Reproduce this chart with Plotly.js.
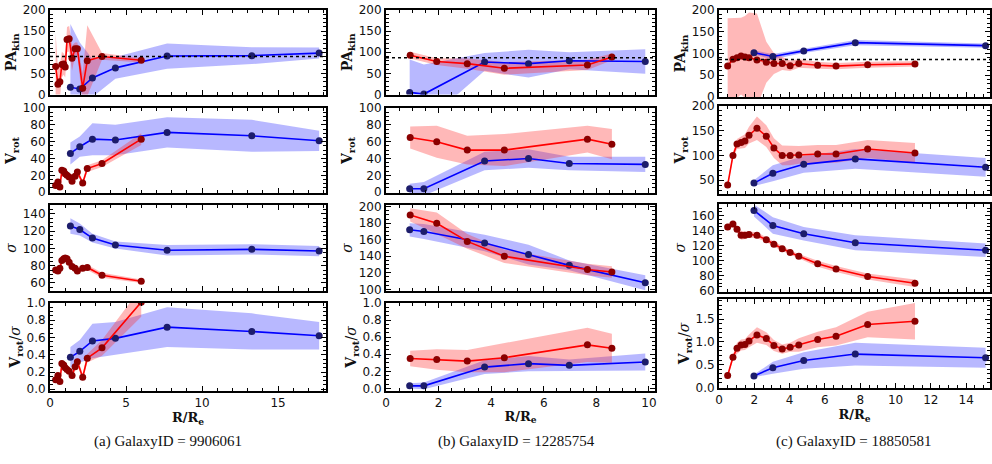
<!DOCTYPE html>
<html>
<head>
<meta charset="utf-8">
<script src="https://cdn.plot.ly/plotly-3.0.1.min.js"></script>
<style>html,body{margin:0;padding:0;background:#fff}#chart{width:992px;height:464px}</style>
</head>
<body>
<div id="chart"></div>
<script>
// ---------- Galaxy (a) 9906061 ----------
const aRedR      = [0.37, 0.52, 0.65, 0.78, 0.9, 1.0, 1.12, 1.26, 1.45, 1.65, 1.8, 2.15, 2.45, 3.42, 6.0];
const aRedPA     = [66, 24, 30, 71, 72, 65, 130, 132, 86, 108, 108, 15, 80, 90, 81];
const aRedPAerr  = [79, 40, 40, 30, 25, 25, 30, 30, 30, 15, 15, 35, 84, 8, 5];
const aRedV      = [8, 12, 6, 26, 25, 22, 20, 18, 13, 19, 24, 11, 28, 34, 63];
const aRedVerr   = [2, 2, 2, 3, 3, 3, 3, 3, 3, 3, 3, 3, 4, 4, 7];
const aRedSig    = [75, 74, 77, 86, 88, 89, 88, 84, 79, 77, 74, 77, 78, 69, 62];
const aRedSigErr = [3, 3, 3, 3, 3, 3, 3, 3, 3, 3, 3, 3, 3, 3, 2];
const aRedVS     = [0.11, 0.16, 0.09, 0.30, 0.28, 0.25, 0.23, 0.21, 0.16, 0.26, 0.32, 0.14, 0.36, 0.48, 1.01];
const aRedVSerr  = [0.03, 0.03, 0.03, 0.04, 0.04, 0.04, 0.04, 0.04, 0.04, 0.04, 0.04, 0.04, 0.05, 0.09, 0.17];
const aBlueR      = [1.34, 1.96, 2.79, 4.3, 7.7, 13.27, 17.7];
const aBluePA     = [17, 13, 39, 63, 91, 92, 98];
const aBluePAerr  = [150, 110, 45, 26, 30, 20, 13];
const aBlueV      = [46, 54, 63, 62, 71, 67, 61];
const aBlueVerr   = [13, 12, 19, 18, 18, 19, 12];
const aBlueSig    = [126, 122, 112, 104, 98, 99, 97];
const aBlueSigErr = [9, 7, 5, 4, 6, 6, 6];
const aBlueVS     = [0.37, 0.44, 0.56, 0.59, 0.72, 0.67, 0.62];
const aBlueVSerr  = [0.12, 0.13, 0.2, 0.19, 0.23, 0.21, 0.16];

// ---------- Galaxy (b) 12285754 ----------
const bRedR      = [0.92, 1.93, 3.09, 4.5, 7.66, 8.59];
const bRedPA     = [93, 78, 73, 62, 70, 89];
const bRedPAerr  = [8, 8, 12, 15, 12, 8];
const bRedV      = [65, 60, 50, 50, 63, 57];
const bRedVerr   = [13, 19, 17, 19, 16, 18];
const bRedSig    = [190, 180, 158, 140, 124, 121];
const bRedSigErr = [8, 13, 9, 8, 7, 7];
const bRedVS     = [0.35, 0.34, 0.32, 0.36, 0.51, 0.47];
const bRedVSerr  = [0.09, 0.12, 0.13, 0.17, 0.2, 0.17];
const bBlueR      = [0.9, 1.44, 3.75, 5.42, 6.97, 9.86];
const bBluePA     = [5, 1, 77, 73, 80, 78];
const bBluePAerr  = [78, 70, 21, 33, 20, 29];
const bBlueV      = [4, 4, 37, 40, 34, 33];
const bBlueVerr   = [6, 8, 11, 11, 8, 9];
const bBlueSig    = [172, 170, 156, 142, 129, 108];
const bBlueSigErr = [8, 9, 10, 12, 6, 9];
const bBlueVS     = [0.03, 0.03, 0.25, 0.29, 0.27, 0.31];
const bBlueVSerr  = [0.03, 0.04, 0.08, 0.09, 0.07, 0.1];

// ---------- Galaxy (c) 18850581 ----------
const cRedR      = [0.49, 0.79, 1.02, 1.25, 1.47, 1.7, 2.15, 2.68, 3.11, 3.58, 4.03, 4.52, 5.59, 6.63, 8.42, 11.1];
const cRedPA     = [71, 87, 90, 94, 92, 90, 85, 80, 77, 77, 72, 77, 73, 71, 74, 76];
const cRedPAerr  = [110, 95, 92, 88, 94, 104, 107, 47, 24, 15, 12, 10, 8, 7, 7, 6];
const cRedV      = [40, 100, 123, 126, 129, 141, 155, 139, 115, 100, 100, 101, 103, 103, 113, 105];
const cRedVerr   = [3, 6, 10, 12, 14, 17, 24, 22, 20, 20, 20, 18, 18, 18, 18, 20];
const cRedSig    = [145, 149, 142, 134, 134, 135, 134, 128, 122, 116, 111, 106, 96, 89, 79, 70];
const cRedSigErr = [4, 4, 4, 6, 5, 4, 4, 3, 3, 3, 3, 3, 4, 4, 4, 5];
const cRedVS     = [0.26, 0.66, 0.86, 0.93, 0.94, 1.02, 1.15, 1.07, 0.92, 0.84, 0.88, 0.93, 1.05, 1.12, 1.38, 1.45];
const cRedVSerr  = [0.03, 0.06, 0.12, 0.12, 0.12, 0.14, 0.17, 0.14, 0.12, 0.1, 0.1, 0.15, 0.17, 0.2, 0.28, 0.4];
const cBlueR      = [1.98, 3.05, 4.8, 7.72, 15.1];
const cBluePA     = [102, 93, 106, 125, 118];
const cBluePAerr  = [5, 6, 5, 6, 5];
const cBlueV      = [44, 64, 82, 93, 76];
const cBlueVerr   = [6, 16, 17, 20, 19];
const cBlueSig    = [167, 147, 136, 124, 114];
const cBlueSigErr = [8, 11, 9, 10, 9];
const cBlueVS     = [0.25, 0.43, 0.59, 0.73, 0.65];
const cBlueVSerr  = [0.03, 0.13, 0.18, 0.25, 0.22];

// reference PA (dotted line) and captions
const refPA = [90, 87, 86];
const captions = ['(a) GalaxyID = 9906061', '(b) GalaxyID = 12285754', '(c) GalaxyID = 18850581'];
const yTitles = ['<b>PA</b><sub><b>kin</b></sub>', '<b>V</b><sub><b>rot</b></sub>', '<i>σ</i>', '<b>V</b><sub><b>rot</b></sub>/<i>σ</i>'];

const columns = [
  {red: [aRedPA, aRedV, aRedSig, aRedVS], redErr: [aRedPAerr, aRedVerr, aRedSigErr, aRedVSerr], redR: aRedR,
   blue: [aBluePA, aBlueV, aBlueSig, aBlueVS], blueErr: [aBluePAerr, aBlueVerr, aBlueSigErr, aBlueVSerr], blueR: aBlueR},
  {red: [bRedPA, bRedV, bRedSig, bRedVS], redErr: [bRedPAerr, bRedVerr, bRedSigErr, bRedVSerr], redR: bRedR,
   blue: [bBluePA, bBlueV, bBlueSig, bBlueVS], blueErr: [bBluePAerr, bBlueVerr, bBlueSigErr, bBlueVSerr], blueR: bBlueR},
  {red: [cRedPA, cRedV, cRedSig, cRedVS], redErr: [cRedPAerr, cRedVerr, cRedSigErr, cRedVSerr], redR: cRedR,
   blue: [cBluePA, cBlueV, cBlueSig, cBlueVS], blueErr: [cBluePAerr, cBlueVerr, cBlueSigErr, cBlueVSerr], blueR: cBlueR}
];

// ---------- layout geometry (pixels) ----------
const W = 992, H = 464;
const colX = [[50, 326], [386, 655], [719, 990]];
const rowsY = [
  [[10, 94.5], [108, 193], [205, 291], [303, 391]],
  [[10, 94.5], [108, 193], [205, 291], [303, 391]],
  [[10, 97], [106, 194], [204, 291.5], [299, 388]]
];
const xRanges = [[0, 18.15], [0, 10.23], [0, 15.35]];
const xTicks = [[5, 1], [2, 0.5], [2, 0.5]];
const yRanges = [
  [[0, 200], [-1, 100], [50.7, 150.4], [-0.02, 1.0]],
  [[0, 200], [-1, 100], [98, 202], [-0.03, 1.0]],
  [[0, 200], [22, 200], [59, 175.5], [-0.015, 1.94]]
];
const yTicks = [
  [[50, 10], [20, 5], [20, 5], [0.2, 0.05]],
  [[50, 10], [20, 5], [20, 5], [0.2, 0.05]],
  [[50, 10], [50, 10], [20, 5], [0.5, 0.1]]
];

const BLUE_FILL = 'rgba(40,40,255,0.33)';
const RED_FILL = 'rgba(255,40,40,0.33)';

function axName(k, letter) { return k === 1 ? letter : letter + k; }

function bandTrace(x, y, e, color, k) {
  const up = y.map((v, i) => v + e[i]);
  const lo = y.map((v, i) => v - e[i]);
  return {
    x: x.concat(x.slice().reverse()), y: up.concat(lo.reverse()),
    type: 'scatter', mode: 'lines', fill: 'toself', fillcolor: color,
    line: {width: 0, color: color}, hoverinfo: 'skip', showlegend: false,
    xaxis: axName(k, 'x'), yaxis: axName(k, 'y')
  };
}
function lineTrace(x, y, lc, mc, k, msize) {
  return {
    x: x, y: y, type: 'scatter', mode: 'lines+markers',
    line: {color: lc, width: 1.6}, marker: {color: mc, size: msize},
    showlegend: false, xaxis: axName(k, 'x'), yaxis: axName(k, 'y')
  };
}

const data = [];
const layout = {
  width: W, height: H, margin: {l: 0, r: 0, t: 0, b: 0},
  paper_bgcolor: 'white', plot_bgcolor: 'white', showlegend: false,
  font: {family: 'DejaVu Sans', size: 12, color: '#111'},
  shapes: [], annotations: []
};

columns.forEach((col, c) => {
  for (let r = 0; r < 4; r++) {
    const k = c * 4 + r + 1;
    data.push(bandTrace(col.blueR, col.blue[r], col.blueErr[r], BLUE_FILL, k));
    data.push(bandTrace(col.redR, col.red[r], col.redErr[r], RED_FILL, k));
    data.push(lineTrace(col.blueR, col.blue[r], '#0000ff', '#1c1c6b', k, 7));
    data.push(lineTrace(col.redR, col.red[r], '#ff0000', '#8b0000', k, 7));

    const xd = colX[c], yd = rowsY[c][r];
    const common = {
      showline: true, linewidth: 2, linecolor: 'black', mirror: 'allticks',
      ticks: 'inside', ticklen: 5, tickwidth: 1, tickcolor: 'black',
      showgrid: false, zeroline: false, fixedrange: true
    };
    layout[axName(k, 'xaxis')] = Object.assign({}, common, {
      domain: [xd[0] / W, xd[1] / W], anchor: axName(k, 'y'),
      range: xRanges[c], dtick: xTicks[c][0], tick0: 0,
      minor: {dtick: xTicks[c][1], tick0: 0, ticks: 'inside', ticklen: 3, tickcolor: 'black'},
      showticklabels: r === 3,
      title: r === 3 ? {text: '<b>R/R</b><sub><b>e</b></sub>', font: {family: 'DejaVu Serif', size: 13, color: '#111'}, standoff: 2} : {text: ''}
    });
    layout[axName(k, 'yaxis')] = Object.assign({}, common, {
      domain: [1 - yd[1] / H, 1 - yd[0] / H], anchor: axName(k, 'x'),
      range: yRanges[c][r], dtick: yTicks[c][r][0], tick0: 0,
      minor: {dtick: yTicks[c][r][1], tick0: 0, ticks: 'inside', ticklen: 3, tickcolor: 'black'},
      tickformat: r === 3 ? '.1f' : '',
      title: {text: yTitles[r], font: {family: 'DejaVu Serif', size: 14, color: '#111'}, standoff: 3}
    });
    if (r === 0) {
      layout.shapes.push({
        type: 'line', xref: axName(k, 'x') + ' domain', yref: axName(k, 'y'),
        x0: 0, x1: 1, y0: refPA[c], y1: refPA[c],
        line: {color: 'black', width: 1.5, dash: 'dot'}
      });
    }
  }
});

const capX = [168, 516, 854];
captions.forEach((t, c) => {
  layout.annotations.push({
    text: t, xref: 'paper', yref: 'paper', x: capX[c] / W, y: 1 - 441 / H,
    xanchor: 'center', yanchor: 'middle', showarrow: false,
    font: {family: 'Liberation Serif', size: 15, color: '#111'}
  });
});

Plotly.newPlot('chart', data, layout, {staticPlot: true, displayModeBar: false});
</script>
</body>
</html>
